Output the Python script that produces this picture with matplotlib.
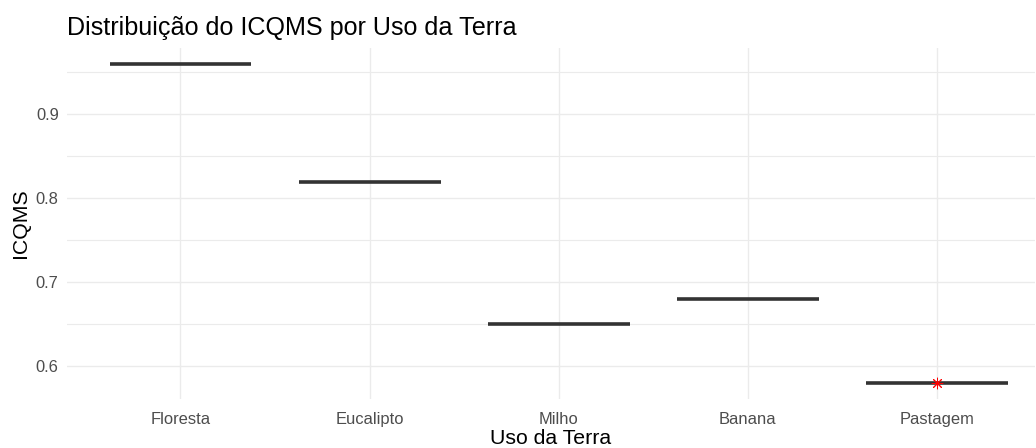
import numpy as np
import matplotlib.pyplot as plt

plt.rcParams['font.family'] = ['Liberation Sans', 'DejaVu Sans']

# dados (um valor por uso da terra)
usos = ['Floresta', 'Eucalipto', 'Milho', 'Banana', 'Pastagem']
icqms = [0.96, 0.82, 0.65, 0.68, 0.58]
# ponto destacado (média) só em Pastagem
destaque_uso = ['Pastagem']
destaque_val = [0.58]

fig = plt.figure(figsize=(10.36, 4.48), dpi=100)
ax = fig.add_axes([67 / 1036, 1 - 399 / 448, 968 / 1036, 351 / 448])

pos = np.arange(1, len(usos) + 1)
larg = 0.75
ax.hlines(icqms, pos - larg / 2, pos + larg / 2, color='#333333', linewidth=2.6, zorder=3)

idx = [usos.index(u) + 1 for u in destaque_uso]
ax.scatter(idx, destaque_val, marker=(8, 2, 0), s=60, color='red', linewidths=0.7, zorder=4)

ax.set_xlim(0.4, 1 + (1035 - 181) / 189)
ax.set_ylim(0.561, 0.979)
ax.set_xticks(pos)
ax.set_xticklabels(usos)
ax.set_yticks([0.6, 0.7, 0.8, 0.9])
ax.set_yticklabels(['0.6', '0.7', '0.8', '0.9'])
ax.set_yticks([0.65, 0.75, 0.85, 0.95], minor=True)

ax.grid(True, which='major', color='#EBEBEB', linewidth=1.0)
ax.grid(True, which='minor', axis='y', color='#EBEBEB', linewidth=0.8)
ax.set_axisbelow(True)
for s in ax.spines.values():
    s.set_visible(False)
ax.tick_params(which='both', length=0, labelsize=11.9, labelcolor='#4D4D4D')
ax.tick_params(axis='x', pad=9)
ax.tick_params(axis='y', pad=6)

ax.set_xlabel('Uso da Terra', fontsize=15.3, color='black', labelpad=1.5)
ax.set_ylabel('ICQMS', fontsize=15.3, color='black', labelpad=4)
fig.text(67 / 1036, 1 - 35 / 448, 'Distribuição do ICQMS por Uso da Terra', fontsize=18.1,
         color='black', ha='left', va='baseline')

fig.savefig('out.png', dpi=100, facecolor='white')
